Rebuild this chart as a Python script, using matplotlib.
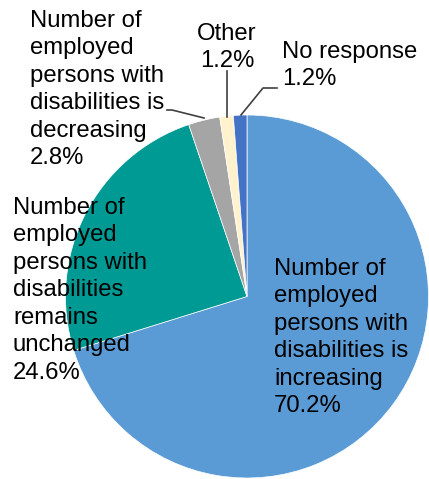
import matplotlib.pyplot as plt

# slices, clockwise from 12 o'clock
labels = ['Number of\nemployed\npersons with\ndisabilities is\nincreasing',
          'Number of\nemployed\npersons with\ndisabilities\nremains\nunchanged',
          'Number of\nemployed\npersons with\ndisabilities is\ndecreasing',
          'Other',
          'No response']
values = [70.2, 24.6, 2.8, 1.2, 1.2]
colors = ['#5B9BD5', '#009A94', '#A5A5A5', '#FFF2CC', '#4472C4']

plt.rcParams['font.family'] = ['Liberation Sans', 'DejaVu Sans']

W, H = 429, 479
fig = plt.figure(figsize=(W / 100, H / 100), dpi=100)
ax = fig.add_axes([0, 0, 1, 1])

cx, cy, r = 247, H - 296.5, 181.5
ax.pie(values, colors=colors, startangle=90, counterclock=False,
       center=(cx, cy), radius=r, frame=True,
       wedgeprops=dict(edgecolor='white', linewidth=0.5))
ax.set_xlim(0, W)
ax.set_ylim(0, H)
ax.axis('off')

txt = [l + '\n%.1f%%' % v for l, v in zip(labels, values)]
fs = 17.2
# label positions in pixels (left, top)
pos = [(274, 258, 'left'), (13, 197, 'left'), (30, 10, 'left'),
       (227, 23, 'center'), (282, 41, 'left')]
for t, (x, y, ha) in zip(txt, pos):
    ax.text(x, H - y, t, ha=ha, va='top', fontsize=fs, color='black',
            linespacing=1.32, multialignment=ha)

# leader lines
ax.plot([167, 172, 204], [H - 110, H - 110, H - 118], color='#404040', lw=1.2)
ax.plot([227, 227], [H - 71, H - 117], color='#404040', lw=1.2)
ax.plot([277, 263, 241], [H - 88, H - 88, H - 115], color='#404040', lw=1.2)

fig.savefig('out.png', dpi=100)
